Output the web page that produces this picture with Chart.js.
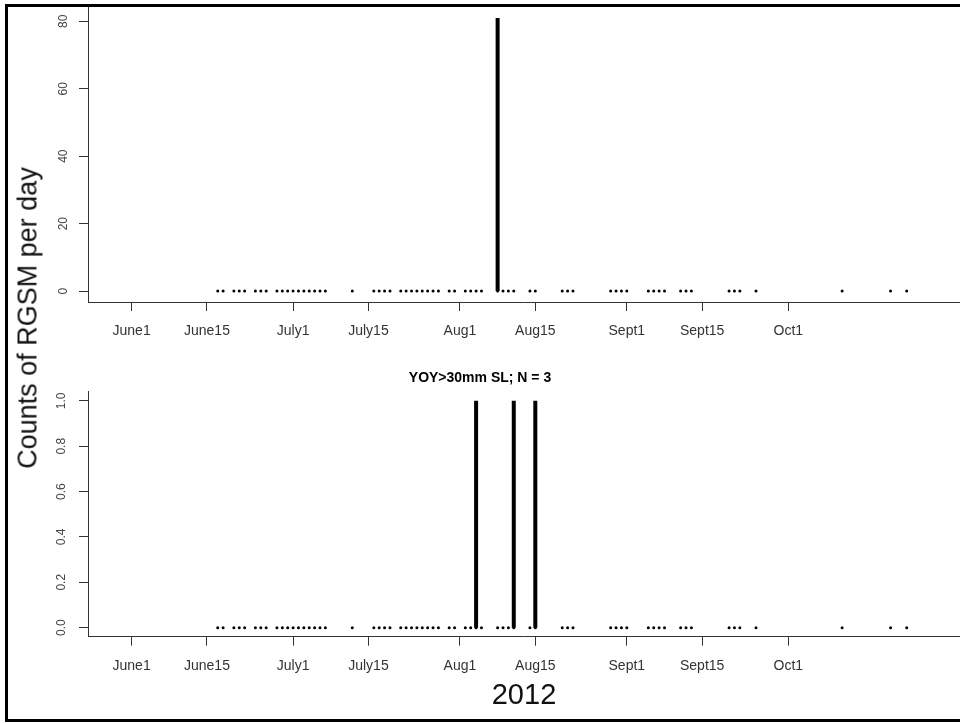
<!DOCTYPE html>
<html>
<head>
<meta charset="utf-8">
<script src="https://cdn.jsdelivr.net/npm/chart.js@4/dist/chart.umd.min.js"></script>
<style>
  body { margin: 0; background: #fff; width: 960px; height: 723px; overflow: hidden; position: relative; font-family: "Liberation Sans", Arial, sans-serif; }
  #frame { position: absolute; left: 5px; top: 4px; width: 1000px; height: 718px; border: 3px solid #000; box-sizing: border-box; }
  #c1 { position: absolute; left: 0; top: 0; }
  #c2 { position: absolute; left: 0; top: 345px; }
  #ylab { position: absolute; left: 28px; top: 318px; transform: translate(-50%, -50%) rotate(-90deg); font-size: 27px; white-space: nowrap; color: #111; }
  #xlab { position: absolute; left: 524px; top: 694px; transform: translate(-50%, -50%); font-size: 29px; color: #111; }
</style>
</head>
<body>
<div id="frame"></div>
<canvas id="c1" width="960" height="345"></canvas>
<canvas id="c2" width="960" height="378"></canvas>
<div id="ylab">Counts of RGSM per day</div>
<div id="xlab">2012</div>
<script>
// days counted from June 1, 2012
const tickDays = [0, 14, 30, 44, 61, 75, 92, 106, 122];
const tickLabels = ['June1', 'June15', 'July1', 'July15', 'Aug1', 'Aug15', 'Sept1', 'Sept15', 'Oct1'];

// sampled days (both panels)
const sampleDays = [16, 17, 19, 20, 21, 23, 24, 25, 27, 28, 29, 30, 31, 32, 33, 34, 35, 36, 41,
  45, 46, 47, 48, 50, 51, 52, 53, 54, 55, 56, 57, 59, 60, 62, 63, 64, 65, 68, 69, 70, 71, 74, 75,
  80, 81, 82, 89, 90, 91, 92, 96, 97, 98, 99, 102, 103, 104, 111, 112, 113, 116, 132, 141, 144];

// days with fish caught
const allSpikeDays = [68];
const allSpikeCounts = [81];
const yoySpikeDays = [64, 71, 75];
const yoySpikeCounts = [1, 1, 1];

const topTicks = [0, 20, 40, 60, 80];
const botTicks = [0, 0.2, 0.4, 0.6, 0.8, 1.0];

const FONT = '"Liberation Sans", Arial, sans-serif';

function buildData(spDays, spCounts) {
  const sets = [{
    data: sampleDays.map(d => ({ x: d, y: 0 })),
    pointRadius: 1.5,
    pointBackgroundColor: '#000',
    pointBorderWidth: 0,
    showLine: false
  }];
  spDays.forEach((d, i) => {
    sets.push({
      data: [{ x: d, y: 0 }, { x: d, y: spCounts[i] }],
      borderColor: '#000',
      borderWidth: 4,
      pointRadius: 0,
      showLine: true,
      borderCapStyle: 'butt'
    });
  });
  return { datasets: sets };
}

function makeChart(id, spDays, spCounts, yMin, yMax, yTicks, yFmt, xHeight, title) {
  return new Chart(document.getElementById(id), {
    type: 'scatter',
    data: buildData(spDays, spCounts),
    options: {
      responsive: false,
      animation: false,
      layout: { padding: { top: title ? 0 : 7, right: 0, left: 0, bottom: 0 }, autoPadding: false },
      plugins: {
        legend: { display: false },
        tooltip: { enabled: false },
        title: title ? {
          display: true, text: title, color: '#000',
          font: { family: FONT, size: 14, weight: 'bold' },
          padding: { top: 25, bottom: 5 }
        } : { display: false }
      },
      scales: {
        x: {
          type: 'linear', min: -8.1, max: 153.9,
          afterBuildTicks: s => { s.ticks = tickDays.map(v => ({ value: v })); },
          afterFit: s => { s.height = xHeight; s.paddingLeft = 0; s.paddingRight = 0; },
          ticks: {
            autoSkip: false, maxRotation: 0, padding: 12, color: '#333',
            font: { family: FONT, size: 14 },
            callback: v => tickLabels[tickDays.indexOf(v)]
          },
          grid: { drawOnChartArea: false, tickLength: 9, color: '#333' },
          border: { color: '#333', width: 1 }
        },
        y: {
          min: yMin, max: yMax,
          afterBuildTicks: s => { s.ticks = yTicks.map(v => ({ value: v })); },
          afterFit: s => { s.width = 88; s.paddingTop = 0; s.paddingBottom = 0; },
          ticks: {
            minRotation: 90, maxRotation: 90, crossAlign: 'center', padding: 9, color: '#444',
            font: { family: FONT, size: 12 },
            callback: yFmt
          },
          grid: { drawOnChartArea: false, tickLength: 9, color: '#333' },
          border: { color: '#333', width: 1 }
        }
      }
    }
  });
}

makeChart('c1', allSpikeDays, allSpikeCounts, -3.24, 84.24, topTicks, v => String(v), 43, null);
makeChart('c2', yoySpikeDays, yoySpikeCounts, -0.04, 1.04, botTicks, v => v.toFixed(1), 86.3, 'YOY>30mm SL; N = 3');
</script>
</body>
</html>
